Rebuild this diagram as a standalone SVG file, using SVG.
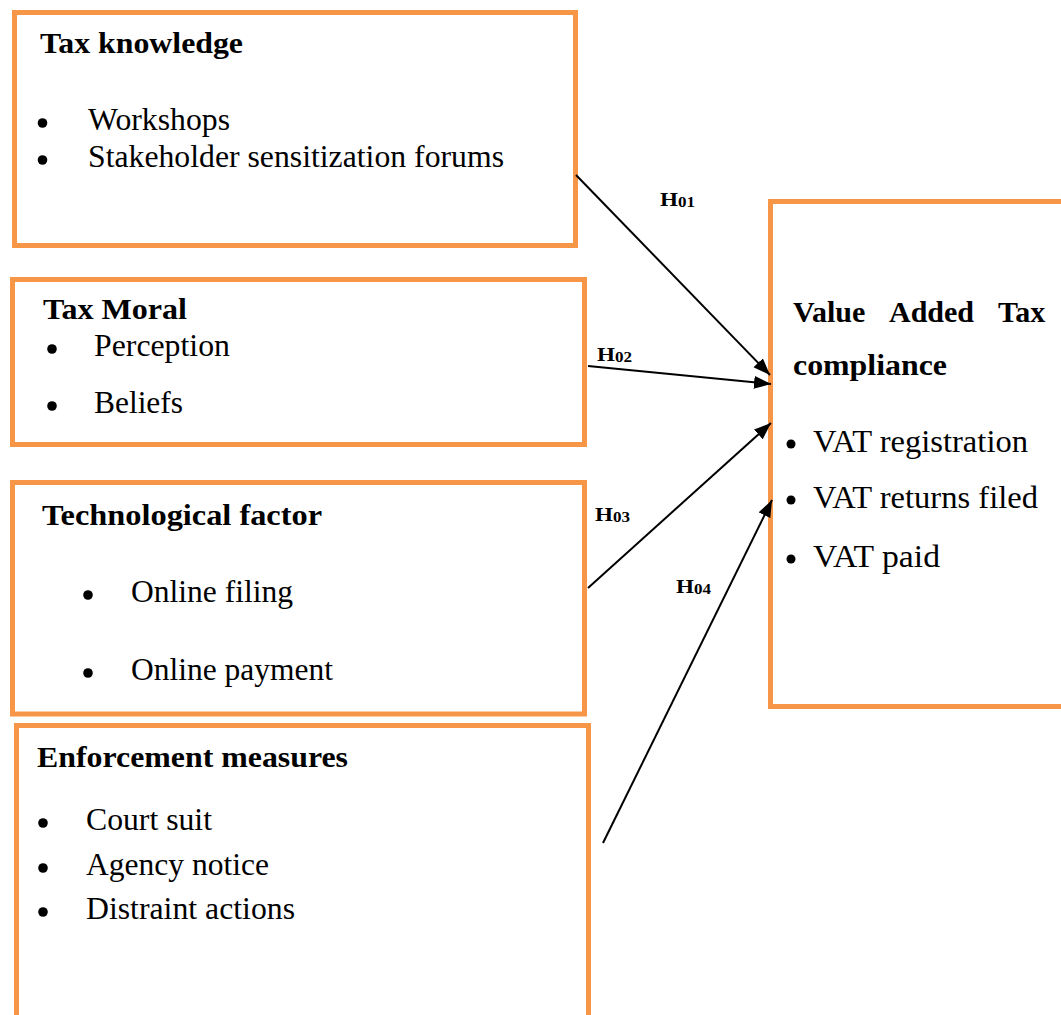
<svg xmlns="http://www.w3.org/2000/svg" width="1061" height="1015" viewBox="0 0 1061 1015">
<defs>
<style>
.box{fill:#fff;stroke:#F79646;stroke-width:5}
.t{font-family:"Liberation Serif","Times New Roman",serif;fill:#000}
.h{font-size:30px;font-weight:bold}
.r{font-size:31px}
.hl{font-size:19px;font-weight:bold}
.sub{font-size:14px}
.bul{fill:#000}
.con{stroke:#000;stroke-width:2;fill:none;marker-end:url(#ah)}
</style>
<marker id="ah" markerUnits="userSpaceOnUse" markerWidth="18" markerHeight="14" refX="17" refY="6.5" orient="auto">
<path d="M0,0 L17,6.5 L0,13 z" fill="#000"/>
</marker>
</defs>
<rect width="1061" height="1015" fill="#fff"/>
<g id="node-tax-knowledge">
<rect class="box" x="14.5" y="12.5" width="561" height="233"/>
<text class="t h" x="40" y="53" textLength="203" lengthAdjust="spacingAndGlyphs">Tax knowledge</text>
<circle class="bul" cx="42.5" cy="123" r="4.8"/>
<text class="t r" x="88" y="130" textLength="142" lengthAdjust="spacingAndGlyphs">Workshops</text>
<circle class="bul" cx="42.5" cy="160" r="4.8"/>
<text class="t r" x="88" y="167" textLength="416" lengthAdjust="spacingAndGlyphs">Stakeholder sensitization forums</text>
</g>
<g id="node-tax-moral">
<rect class="box" x="12.5" y="279.5" width="572" height="165"/>
<text class="t h" x="43" y="319" textLength="144" lengthAdjust="spacingAndGlyphs">Tax Moral</text>
<circle class="bul" cx="52" cy="349" r="4.8"/>
<text class="t r" x="94" y="356" textLength="136" lengthAdjust="spacingAndGlyphs">Perception</text>
<circle class="bul" cx="52" cy="406" r="4.8"/>
<text class="t r" x="94" y="413" textLength="89" lengthAdjust="spacingAndGlyphs">Beliefs</text>
</g>
<g id="node-technological">
<rect class="box" x="12.5" y="482.5" width="572" height="231.5"/>
<text class="t h" x="42" y="525" textLength="280" lengthAdjust="spacingAndGlyphs">Technological factor</text>
<circle class="bul" cx="88" cy="595" r="4.8"/>
<text class="t r" x="131" y="602" textLength="162" lengthAdjust="spacingAndGlyphs">Online filing</text>
<circle class="bul" cx="88" cy="673" r="4.8"/>
<text class="t r" x="131" y="680" textLength="202" lengthAdjust="spacingAndGlyphs">Online payment</text>
</g>
<g id="node-enforcement">
<rect class="box" x="16.5" y="725.5" width="572" height="310"/>
<text class="t h" x="37" y="767" textLength="311" lengthAdjust="spacingAndGlyphs">Enforcement measures</text>
<circle class="bul" cx="43" cy="823" r="4.8"/>
<text class="t r" x="86" y="830" textLength="126" lengthAdjust="spacingAndGlyphs">Court suit</text>
<circle class="bul" cx="43" cy="868" r="4.8"/>
<text class="t r" x="86" y="875" textLength="183" lengthAdjust="spacingAndGlyphs">Agency notice</text>
<circle class="bul" cx="43" cy="912" r="4.8"/>
<text class="t r" x="86" y="919" textLength="209" lengthAdjust="spacingAndGlyphs">Distraint actions</text>
</g>
<g id="node-vat-compliance">
<rect class="box" x="770.5" y="201.5" width="310" height="505"/>
<text class="t h" y="322"><tspan x="793">Value</tspan><tspan x="889">Added</tspan><tspan x="998">Tax</tspan></text>
<text class="t h" x="793" y="375" textLength="154" lengthAdjust="spacingAndGlyphs">compliance</text>
<circle class="bul" cx="791" cy="444" r="4.5"/>
<text class="t r" x="813" y="452" textLength="215" lengthAdjust="spacingAndGlyphs">VAT registration</text>
<circle class="bul" cx="791" cy="500" r="4.5"/>
<text class="t r" x="813" y="508" textLength="225" lengthAdjust="spacingAndGlyphs">VAT returns filed</text>
<circle class="bul" cx="791" cy="559" r="4.5"/>
<text class="t r" x="813" y="567" textLength="127" lengthAdjust="spacingAndGlyphs">VAT paid</text>
</g>
<g id="connectors">
<line class="con" x1="576" y1="175" x2="770" y2="375"/>
<line class="con" x1="588" y1="366" x2="771" y2="384"/>
<line class="con" x1="588" y1="588" x2="771" y2="423"/>
<line class="con" x1="603" y1="843" x2="772" y2="500"/>
<text class="t hl" x="660" y="206" textLength="35" lengthAdjust="spacingAndGlyphs">H<tspan class="sub" dy="1">01</tspan></text>
<text class="t hl" x="597" y="361" textLength="35" lengthAdjust="spacingAndGlyphs">H<tspan class="sub" dy="1">02</tspan></text>
<text class="t hl" x="595" y="521" textLength="35" lengthAdjust="spacingAndGlyphs">H<tspan class="sub" dy="1">03</tspan></text>
<text class="t hl" x="676" y="593" textLength="35" lengthAdjust="spacingAndGlyphs">H<tspan class="sub" dy="1">04</tspan></text>
</g>
</svg>
